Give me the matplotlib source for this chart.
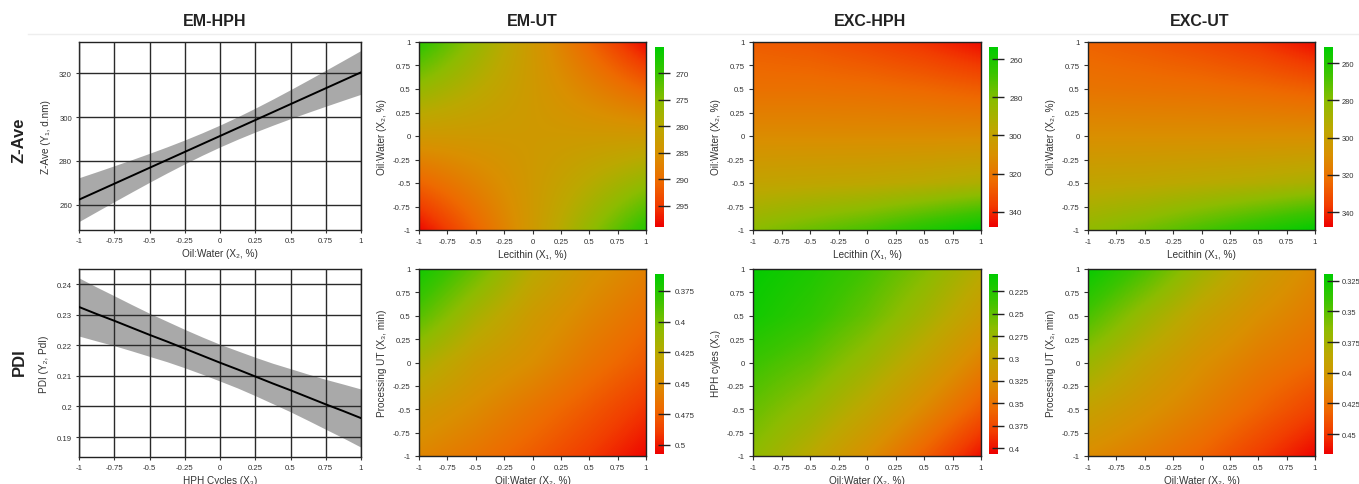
import numpy as np
import matplotlib
matplotlib.use("Agg")
import matplotlib.pyplot as plt
from matplotlib.colors import LinearSegmentedColormap

plt.rcParams['font.family'] = ['Liberation Sans', 'DejaVu Sans']
plt.rcParams['axes.unicode_minus'] = False

# ---------------- data ----------------
col_titles = ["EM-HPH", "EM-UT", "EXC-HPH", "EXC-UT"]
row_titles = ["Z-Ave", "PDI"]

x_line = [-1, -0.875, -0.75, -0.625, -0.5, -0.375, -0.25, -0.125, 0,
          0.125, 0.25, 0.375, 0.5, 0.625, 0.75, 0.875, 1]
zave_fit = [262.35, 265.98, 269.61, 273.24, 276.88, 280.51, 284.14, 287.77, 291.4,
            295.03, 298.66, 302.29, 305.93, 309.56, 313.19, 316.82, 320.45]
zave_ci = [10.0, 9.08, 8.20, 7.37, 6.61, 5.96, 5.45, 5.12, 5.0,
           5.12, 5.45, 5.96, 6.61, 7.37, 8.20, 9.08, 10.0]
pdi_fit = [0.2325, 0.2302, 0.2280, 0.2257, 0.2234, 0.2212, 0.2189, 0.2166, 0.2143,
           0.2121, 0.2098, 0.2075, 0.2053, 0.2030, 0.2007, 0.1985, 0.1962]
pdi_ci = [0.0095, 0.0088, 0.00815, 0.00756, 0.00704, 0.0066, 0.00627, 0.00607, 0.0060,
          0.00607, 0.00627, 0.0066, 0.00704, 0.00756, 0.00815, 0.0088, 0.0095]

coded_ticks = [-1, -0.75, -0.5, -0.25, 0, 0.25, 0.5, 0.75, 1]
coded_labels = ["-1", "-0.75", "-0.5", "-0.25", "0", "0.25", "0.5", "0.75", "1"]

zave_yticks = [260, 280, 300, 320]
zave_ylim = [248.5, 334.3]
pdi_yticks = [0.19, 0.20, 0.21, 0.22, 0.23, 0.24]
pdi_yticklabels = ["0.19", "0.2", "0.21", "0.22", "0.23", "0.24"]
pdi_ylim = [0.1835, 0.2449]

# response-surface values read at x,y in {-1,-0.5,0,0.5,1}; rows from y=1 (top) to y=-1
em_ut_zave = [[268.5, 276.0, 283.5, 291.0, 298.5],
              [276.0, 279.8, 283.5, 287.2, 291.0],
              [283.5, 283.5, 283.5, 283.5, 283.5],
              [291.0, 287.2, 283.5, 279.8, 276.0],
              [298.5, 291.0, 283.5, 276.0, 268.5]]
exc_hph_zave = [[328, 330, 334, 339, 346],
                [322, 322, 323, 325, 328],
                [312, 312, 312, 312, 312],
                [299, 298, 297, 295, 292],
                [282, 276, 270, 262, 254]]
exc_ut_zave = [[326, 329, 333, 338, 346],
               [320, 321, 322, 324, 327],
               [310, 310, 310, 310, 310],
               [297, 296, 294, 292, 289],
               [282, 276, 268, 260, 252]]
em_ut_pdi = [[0.368, 0.395, 0.425, 0.445, 0.458],
             [0.390, 0.418, 0.440, 0.455, 0.468],
             [0.418, 0.438, 0.450, 0.465, 0.478],
             [0.440, 0.452, 0.465, 0.478, 0.492],
             [0.455, 0.465, 0.477, 0.490, 0.505]]
exc_hph_pdi = [[0.208, 0.220, 0.238, 0.262, 0.292],
               [0.215, 0.230, 0.252, 0.280, 0.312],
               [0.235, 0.250, 0.275, 0.305, 0.338],
               [0.252, 0.272, 0.300, 0.332, 0.365],
               [0.268, 0.295, 0.327, 0.362, 0.400]]
exc_ut_pdi = [[0.322, 0.345, 0.372, 0.395, 0.412],
              [0.345, 0.370, 0.392, 0.408, 0.420],
              [0.370, 0.390, 0.407, 0.420, 0.430],
              [0.392, 0.405, 0.418, 0.432, 0.446],
              [0.410, 0.420, 0.432, 0.448, 0.465]]

cbar_ranges = {
    "em_ut_zave": [265.0, 299.0], "exc_hph_zave": [253.6, 348.0], "exc_ut_zave": [251.4, 348.0],
    "em_ut_pdi": [0.3615, 0.5073], "exc_hph_pdi": [0.2057, 0.4067], "exc_ut_pdi": [0.3195, 0.4663],
}
cbar_ticks = {
    "em_ut_zave": [270, 275, 280, 285, 290, 295],
    "exc_hph_zave": [260, 280, 300, 320, 340],
    "exc_ut_zave": [260, 280, 300, 320, 340],
    "em_ut_pdi": [0.375, 0.4, 0.425, 0.45, 0.475, 0.5],
    "exc_hph_pdi": [0.225, 0.25, 0.275, 0.3, 0.325, 0.35, 0.375, 0.4],
    "exc_ut_pdi": [0.325, 0.35, 0.375, 0.4, 0.425, 0.45],
}
cbar_labels = {
    "em_ut_zave": ["270", "275", "280", "285", "290", "295"],
    "exc_hph_zave": ["260", "280", "300", "320", "340"],
    "exc_ut_zave": ["260", "280", "300", "320", "340"],
    "em_ut_pdi": ["0.375", "0.4", "0.425", "0.45", "0.475", "0.5"],
    "exc_hph_pdi": ["0.225", "0.25", "0.275", "0.3", "0.325", "0.35", "0.375", "0.4"],
    "exc_ut_pdi": ["0.325", "0.35", "0.375", "0.4", "0.425", "0.45"],
}

# ---------------- style ----------------
W, H = 1359, 485
fig = plt.figure(figsize=(W / 100, H / 100), dpi=100)

cmap = LinearSegmentedColormap.from_list("gr", [
    (0.00, "#00cc00"), (0.15, "#3cc400"), (0.30, "#8cbc00"), (0.45, "#bca800"),
    (0.60, "#d99000"), (0.75, "#ee6a00"), (0.88, "#f23c00"), (1.00, "#ee0000")])

TXT = "#333333"
TICK_FS = 5.6
LAB_FS = 7.2


def px_axes(l, t, r, b):
    return fig.add_axes([l / W, 1 - b / H, (r - l) / W, (b - t) / H])


def style_axes(ax):
    for s in ax.spines.values():
        s.set_color("#222222")
        s.set_linewidth(1.0)
    ax.tick_params(labelsize=TICK_FS, labelcolor=TXT, length=3, width=0.8,
                   color="#333333", pad=3)


# header
for title, xc in zip(col_titles, [215, 532, 870, 1200]):
    fig.text(xc / W, 1 - 21 / H, title, ha="center", va="center",
             fontsize=11.5, fontweight="bold", color="#222222")
fig.add_artist(plt.Line2D([28 / W, 1], [1 - 35 / H, 1 - 35 / H], color="#eeeeee", lw=1.0))
for title, yc in zip(row_titles, [140, 362]):
    fig.text(19 / W, 1 - yc / H, title, ha="center", va="center", rotation=90,
             fontsize=12, fontweight="bold", color="#222222")

# line plots
line_specs = [
    (43, 231, zave_fit, zave_ci, zave_yticks, [str(v) for v in zave_yticks], zave_ylim,
     "Oil:Water (X\u2082, %)", "Z-Ave (Y\u2081, d.nm)"),
    (270, 458, pdi_fit, pdi_ci, pdi_yticks, pdi_yticklabels, pdi_ylim,
     "HPH Cycles (X\u2083)", "PDI (Y\u2082, PdI)"),
]
for top, bot, fit, ci, yt, ytl, ylim, xl, yl in line_specs:
    ax = px_axes(79, top, 361, bot)
    fit_a = np.array(fit)
    ci_a = np.array(ci)
    ax.fill_between(x_line, fit_a - ci_a, fit_a + ci_a, color="#a9a9a9", lw=0, zorder=1)
    ax.plot(x_line, fit, color="black", lw=1.4, zorder=4)
    ax.set_xlim(-1, 1)
    ax.set_ylim(*ylim)
    ax.set_xticks(coded_ticks)
    ax.set_xticklabels(coded_labels)
    ax.set_yticks(yt)
    ax.set_yticklabels(ytl)
    ax.grid(True, color="#2a2a2a", lw=1.0, zorder=3)
    ax.set_axisbelow(False)
    style_axes(ax)
    ax.tick_params(length=2)
    ax.set_xlabel(xl, fontsize=LAB_FS, color=TXT, labelpad=3)
    ax.set_ylabel(yl, fontsize=LAB_FS, color=TXT, labelpad=6)

# heatmaps
heat_specs = [
    ("em_ut_zave", em_ut_zave, 419, 646, 655, 43, 231, 48, 228,
     "Lecithin (X\u2081, %)", "Oil:Water (X\u2082, %)"),
    ("exc_hph_zave", exc_hph_zave, 753, 981, 989, 43, 231, 48, 228,
     "Lecithin (X\u2081, %)", "Oil:Water (X\u2082, %)"),
    ("exc_ut_zave", exc_ut_zave, 1088, 1315, 1324, 43, 231, 48, 228,
     "Lecithin (X\u2081, %)", "Oil:Water (X\u2082, %)"),
    ("em_ut_pdi", em_ut_pdi, 419, 646, 655, 270, 457, 275, 455,
     "Oil:Water (X\u2082, %)", "Processing UT (X\u2083, min)"),
    ("exc_hph_pdi", exc_hph_pdi, 753, 981, 989, 270, 457, 275, 455,
     "Oil:Water (X\u2082, %)", "HPH cyles (X\u2083)"),
    ("exc_ut_pdi", exc_ut_pdi, 1088, 1315, 1324, 270, 457, 275, 455,
     "Oil:Water (X\u2082, %)", "Processing UT (X\u2083, min)"),
]
for key, grid, l, r, cl, t, b, ct, cb_, xl, yl in heat_specs:
    ax = px_axes(l, t, r, b)
    vmin, vmax = cbar_ranges[key]
    im = ax.imshow(np.array(grid), origin="upper", extent=[-1.25, 1.25, -1.25, 1.25],
                   cmap=cmap, vmin=vmin, vmax=vmax, interpolation="bilinear", aspect="auto")
    ax.set_xlim(-1, 1)
    ax.set_ylim(-1, 1)
    ax.set_xticks(coded_ticks)
    ax.set_xticklabels(coded_labels)
    ax.set_yticks(coded_ticks)
    ax.set_yticklabels(coded_labels)
    style_axes(ax)
    ax.set_xlabel(xl, fontsize=LAB_FS, color=TXT, labelpad=3)
    ax.set_ylabel(yl, fontsize=LAB_FS, color=TXT, labelpad=4)

    cax = px_axes(cl, ct, cl + 9, cb_)
    cbar = fig.colorbar(im, cax=cax)
    cbar.outline.set_visible(False)
    cax.invert_yaxis()
    cbar.set_ticks(cbar_ticks[key])
    cbar.set_ticklabels(cbar_labels[key])
    last_col = cl > 1300
    cax.tick_params(direction="inout", length=8, width=1.0, color="#222222",
                    labelsize=5.4 if last_col else TICK_FS + 0.2, labelcolor=TXT,
                    pad=2 if last_col else 4)
    cax.minorticks_off()

fig.savefig("out.png", dpi=100)
